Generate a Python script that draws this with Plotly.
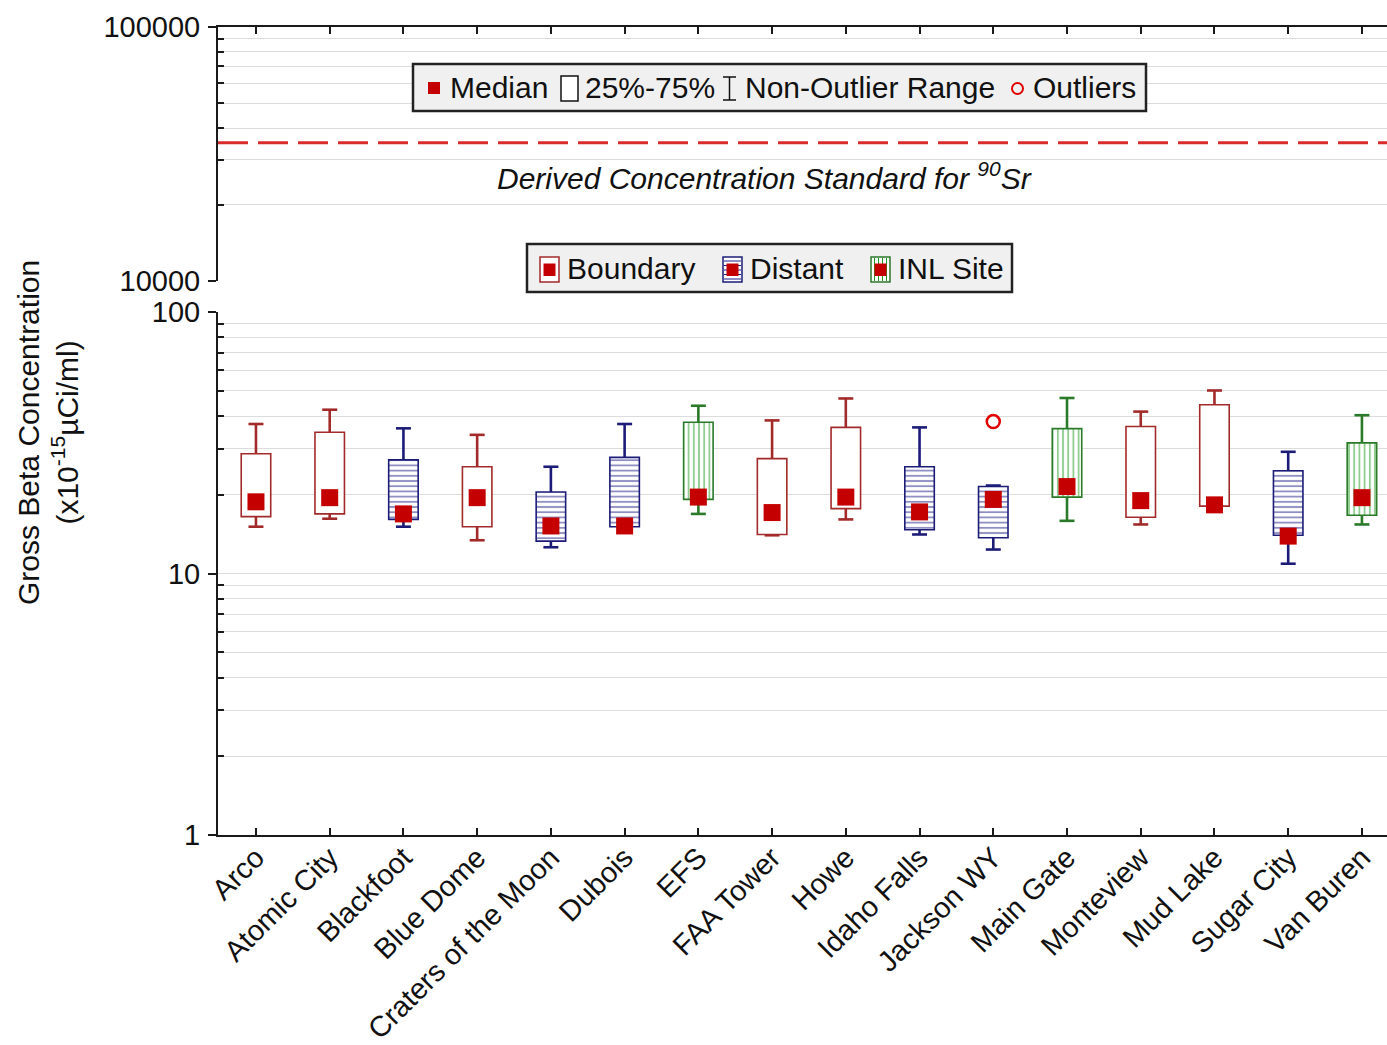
import plotly.graph_objects as go

# ---------------- data ----------------
sites = ["Arco", "Atomic City", "Blackfoot", "Blue Dome", "Craters of the Moon", "Dubois",
         "EFS", "FAA Tower", "Howe", "Idaho Falls", "Jackson WY", "Main Gate",
         "Monteview", "Mud Lake", "Sugar City", "Van Buren"]
groups = ["Boundary", "Boundary", "Distant", "Boundary", "Distant", "Distant",
          "INL Site", "Boundary", "Boundary", "Distant", "Distant", "INL Site",
          "Boundary", "Boundary", "Distant", "INL Site"]
median = [18.8, 19.5, 16.9, 19.5, 15.2, 15.2, 19.6, 17.1, 19.6, 17.2, 19.2, 21.5, 19.0, 18.3, 13.9, 19.5]
q1     = [16.5, 16.9, 16.1, 15.1, 13.3, 15.1, 19.2, 14.1, 17.7, 14.7, 13.7, 19.6, 16.4, 18.1, 14.0, 16.7]
q3     = [28.7, 34.7, 27.2, 25.6, 20.5, 27.8, 37.9, 27.5, 36.2, 25.6, 21.5, 35.8, 36.5, 44.2, 24.7, 31.6]
lower  = [15.1, 16.2, 15.1, 13.4, 12.6, 14.7, 16.9, 14.0, 16.1, 14.1, 12.35, 15.9, 15.4, 18.0, 10.9, 15.4]
upper  = [37.3, 42.3, 35.9, 33.9, 25.6, 37.3, 43.8, 38.5, 46.7, 36.2, 21.7, 46.9, 41.6, 50.1, 29.2, 40.3]
outlier_sites = ["Jackson WY"]
outlier_values = [38.1]
dcs_sr90 = 35000
lower_ticks = [1, 10, 100]
upper_ticks = [10000, 100000]

# ---------------- style ----------------
FONT = "Liberation Sans, Arial, sans-serif"
TXT = "#111111"
AX = "#1a1a1a"
GRID = "#dcdcdc"
MED = "#c40000"
group_style = {
    "Boundary": dict(line="#a32a2a", pattern="", pcolor="#a32a2a"),
    "Distant": dict(line="#1c1c78", pattern="-", pcolor="#1f1f88"),
    "INL Site": dict(line="#2a7a2a", pattern="|", pcolor="#239a23"),
}
W, H = 1387, 1045
PL, PR, PT, PB = 218, 1387, 27, 835
def px(x): return (x - PL) / (PR - PL)
def py(y): return (PB - y) / (PB - PT)

xpos = list(range(len(sites)))
xr = [-0.515, len(sites) - 1 + 0.34]

fig = go.Figure()

for g, st in group_style.items():
    idx = [i for i, gg in enumerate(groups) if gg == g]
    xs = [xpos[i] for i in idx]
    # box (25%-75%)
    fig.add_trace(go.Bar(
        x=xs, y=[q3[i] - q1[i] for i in idx], base=[q1[i] for i in idx],
        width=0.4, marker=dict(color="white", line=dict(color=st["line"], width=1.6),
                               pattern=dict(shape=st["pattern"], fgcolor=st["pcolor"],
                                            bgcolor="white", size=5.2, solidity=0.36)),
        showlegend=False, hoverinfo="skip"))
    # upper whisker
    fig.add_trace(go.Scatter(
        x=xs, y=[q3[i] for i in idx], mode="markers",
        marker=dict(size=1, color="rgba(0,0,0,0)"),
        error_y=dict(type="data", symmetric=False, array=[upper[i] - q3[i] for i in idx],
                     arrayminus=[0] * len(idx), width=0, thickness=2.6, color=st["line"]),
        showlegend=False, hoverinfo="skip"))
    # lower whisker
    fig.add_trace(go.Scatter(
        x=xs, y=[q1[i] for i in idx], mode="markers",
        marker=dict(size=1, color="rgba(0,0,0,0)"),
        error_y=dict(type="data", symmetric=False, array=[0] * len(idx),
                     arrayminus=[q1[i] - lower[i] for i in idx], width=0, thickness=2.6, color=st["line"]),
        showlegend=False, hoverinfo="skip"))
    # caps
    fig.add_trace(go.Scatter(
        x=xs + xs, y=[upper[i] for i in idx] + [lower[i] for i in idx], mode="markers",
        marker=dict(symbol="line-ew", size=10.7, line=dict(color=st["line"], width=2.6)),
        showlegend=False, hoverinfo="skip"))

# medians
fig.add_trace(go.Scatter(x=xpos, y=median, mode="markers",
                         marker=dict(symbol="square", size=17, color=MED, line=dict(width=0)),
                         showlegend=False, hoverinfo="skip"))
# outliers
fig.add_trace(go.Scatter(x=[sites.index(s) for s in outlier_sites], y=outlier_values, mode="markers",
                         marker=dict(symbol="circle-open", size=13, color="#e00000", line=dict(width=2.5)),
                         showlegend=False, hoverinfo="skip"))
# DCS line on upper panel
fig.add_trace(go.Scatter(x=xr, y=[dcs_sr90, dcs_sr90], mode="lines", xaxis="x2", yaxis="y2",
                         line=dict(color="#d92b2b", width=3, dash="30px,10px"),
                         showlegend=False, hoverinfo="skip"))

axis_common = dict(showline=True, linecolor=AX, linewidth=2, zeroline=False, automargin=False)
fig.update_layout(
    width=W, height=H,
    margin=dict(l=PL, r=W - PR, t=PT, b=H - PB, autoexpand=False),
    paper_bgcolor="white", plot_bgcolor="white",
    font=dict(family=FONT, color=TXT, size=29),
    barmode="overlay",
    showlegend=False,
    xaxis=dict(**axis_common, range=xr, tickvals=xpos, ticktext=sites, tickangle=-45,
               ticks="inside", ticklen=7, tickwidth=2, tickcolor=AX, showgrid=False, anchor="y",
               tickfont=dict(size=29), ticklabelstandoff=-8),
    xaxis2=dict(**axis_common, range=xr, tickvals=xpos, showticklabels=False, side="top",
                ticks="inside", ticklen=7, tickwidth=2, tickcolor=AX, showgrid=False, anchor="y2",
                matches="x"),
    yaxis=dict(**axis_common, type="log", range=[0, 2], domain=[0, py(312)], anchor="x",
               tickvals=lower_ticks, ticktext=[str(v) for v in lower_ticks],
               ticks="outside", ticklen=8, tickwidth=2, tickcolor=AX, ticklabelstandoff=2,
               showgrid=True, gridcolor=GRID, gridwidth=1.3,
               minor=dict(tickvals=[m * d for d in (1, 10) for m in range(2, 10)],
                          ticks="inside", ticklen=6, tickwidth=2, tickcolor=AX,
                          showgrid=True, gridcolor=GRID, gridwidth=1.3)),
    yaxis2=dict(**axis_common, type="log", range=[4, 5], domain=[py(281), 1], anchor="x2",
                tickvals=upper_ticks, ticktext=[str(v) for v in upper_ticks],
                ticks="outside", ticklen=8, tickwidth=2, tickcolor=AX, ticklabelstandoff=2,
                showgrid=False,
                minor=dict(tickvals=[m * 10000 for m in range(2, 10)],
                           ticks="inside", ticklen=6, tickwidth=2, tickcolor=AX,
                           showgrid=True, gridcolor=GRID, gridwidth=1.3)),
)

shapes = []
ann = []
# y-axis title
ann.append(dict(xref="paper", yref="paper", x=px(48), y=py(433), textangle=-90, showarrow=False,
                text="Gross Beta Concentration<br>(x10<sup>-15</sup>µCi/ml)",
                font=dict(size=30, color=TXT), xanchor="center", yanchor="middle"))
# DCS label
ann.append(dict(xref="paper", yref="paper", x=px(764), y=py(176), showarrow=False,
                text="<i>Derived Concentration Standard for <sup>90</sup>Sr</i>",
                font=dict(size=30, color=TXT), xanchor="center", yanchor="middle"))

def rect(x0, y0, x1, y1, fill=None, lc=None, lw=0):
    shapes.append(dict(type="rect", xref="paper", yref="paper",
                       x0=px(x0), x1=px(x1), y0=py(y1), y1=py(y0),
                       fillcolor=fill if fill else "rgba(0,0,0,0)",
                       line=dict(color=lc if lc else "rgba(0,0,0,0)", width=lw)))
def line(x0, y0, x1, y1, c, w):
    shapes.append(dict(type="line", xref="paper", yref="paper",
                       x0=px(x0), x1=px(x1), y0=py(y0), y1=py(y1), line=dict(color=c, width=w)))
def label(x, y, t):
    ann.append(dict(xref="paper", yref="paper", x=px(x), y=py(y), text=t, showarrow=False,
                    xanchor="left", yanchor="middle", font=dict(size=30, color=TXT)))

# legend 1
rect(413, 64, 1146, 111, fill="#f0f0f0", lc="#222222", lw=2.5)
rect(428, 82, 440, 94, fill=MED)
label(448, 88, "Median")
rect(561, 76, 578, 101, fill="white", lc="#111111", lw=1.5)
label(583, 88, "25%-75%")
line(729.5, 77, 729.5, 100, "#111111", 1.5)
line(723, 77, 736, 77, "#111111", 1.5)
line(723, 100, 736, 100, "#111111", 1.5)
label(743, 88, "Non-Outlier Range")
shapes.append(dict(type="circle", xref="paper", yref="paper", x0=px(1012), x1=px(1023),
                   y0=py(94), y1=py(83), line=dict(color="#e00000", width=2)))
label(1031, 88, "Outliers")

# legend 2
rect(527, 244, 1012, 292, fill="#f0f0f0", lc="#222222", lw=2.5)
items = [("Boundary", 540, 565), ("Distant", 723, 748), ("INL Site", 871, 896)]
for name, x0, tx in items:
    st = group_style[name]
    rect(x0, 257, x0 + 19, 282, fill="white", lc=st["line"], lw=1.5)
    if st["pattern"] == "-":
        for yy in (261, 265.5, 270, 274.5, 279):
            line(x0 + 1, yy, x0 + 18, yy, st["pcolor"], 1)
    elif st["pattern"] == "|":
        for xx in (3.5, 7.5, 11.5, 15.5):
            line(x0 + xx, 258, x0 + xx, 281, st["pcolor"], 1)
    rect(x0 + 3.5, 263.5, x0 + 15.5, 276, fill=MED)
    label(tx, 268, name)

fig.update_layout(shapes=shapes, annotations=ann)
fig.write_html("out.html")
